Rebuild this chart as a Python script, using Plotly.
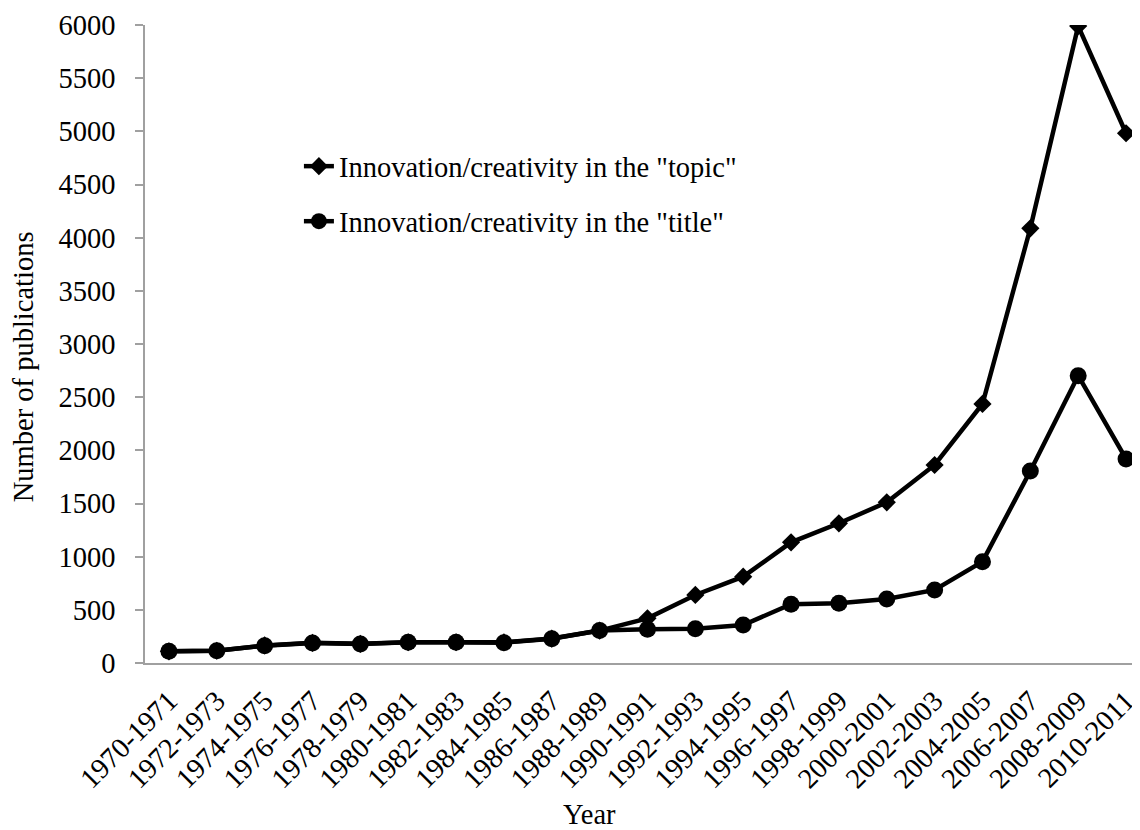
import plotly.graph_objects as go

years = ["1970-1971", "1972-1973", "1974-1975", "1976-1977", "1978-1979",
         "1980-1981", "1982-1983", "1984-1985", "1986-1987", "1988-1989",
         "1990-1991", "1992-1993", "1994-1995", "1996-1997", "1998-1999",
         "2000-2001", "2002-2003", "2004-2005", "2006-2007", "2008-2009",
         "2010-2011"]

topic = [110, 115, 165, 190, 180, 195, 195, 195, 230, 305,
         420, 640, 812, 1135, 1314, 1511, 1862, 2436, 4088, 5990, 4982]

title = [110, 116, 163, 188, 179, 195, 195, 191, 229, 306,
         317, 323, 357, 552, 561, 602, 687, 953, 1806, 2702, 1919]

y_ticks = list(range(0, 6001, 500))

FONT = "Liberation Serif, Times New Roman, serif"
FS = 28.5
AXIS_COLOR = "#a0a0a0"

fig = go.Figure()
fig.add_trace(go.Scatter(
    x=years, y=topic, mode="lines+markers",
    name='Innovation/creativity in the "topic"',
    legendgroup="a",
    line=dict(color="black", width=4.5),
    marker=dict(symbol="diamond", size=14, color="black"),
))
fig.add_trace(go.Scatter(
    x=years, y=title, mode="lines+markers",
    name='Innovation/creativity in the "title"',
    legendgroup="b",
    line=dict(color="black", width=4.5),
    marker=dict(symbol="circle", size=17, color="black"),
))

fig.update_layout(
    width=1132, height=822,
    margin=dict(l=137, r=0, t=17, b=167),
    paper_bgcolor="white", plot_bgcolor="white",
    font=dict(family=FONT, size=FS, color="black"),
    showlegend=True,
    legend=dict(
        x=0.155, y=0.818, xanchor="left", yanchor="top",
        font=dict(family=FONT, size=FS, color="black"),
        bgcolor="rgba(0,0,0,0)",
        traceorder="grouped", tracegroupgap=15,
    ),
    xaxis=dict(
        type="category", categoryorder="array", categoryarray=years,
        range=[-0.5, 20.25],
        showline=True, linecolor=AXIS_COLOR, linewidth=1.5,
        showgrid=False, zeroline=False,
        ticks="", tickangle=-45, ticklabelstandoff=8,
        tickfont=dict(family=FONT, size=FS, color="black"),
    ),
    yaxis=dict(
        range=[0, 6000], tickvals=y_ticks,
        showline=True, linecolor=AXIS_COLOR, linewidth=1.5,
        showgrid=False, zeroline=False,
        ticks="outside", ticklen=8, tickcolor=AXIS_COLOR, tickwidth=1.5,
        ticklabelstandoff=14,
        tickfont=dict(family=FONT, size=FS, color="black"),
    ),
    annotations=[
        dict(text="Year", xref="paper", yref="paper", x=0.448, y=-0.2367,
             xanchor="center", yanchor="middle", showarrow=False,
             font=dict(family=FONT, size=FS, color="black")),
        dict(text="Number of publications", xref="paper", yref="paper",
             x=-0.1216, y=0.464, xanchor="center", yanchor="middle",
             textangle=-90, showarrow=False,
             font=dict(family=FONT, size=FS, color="black")),
    ],
)

fig.write_html("out.html")
